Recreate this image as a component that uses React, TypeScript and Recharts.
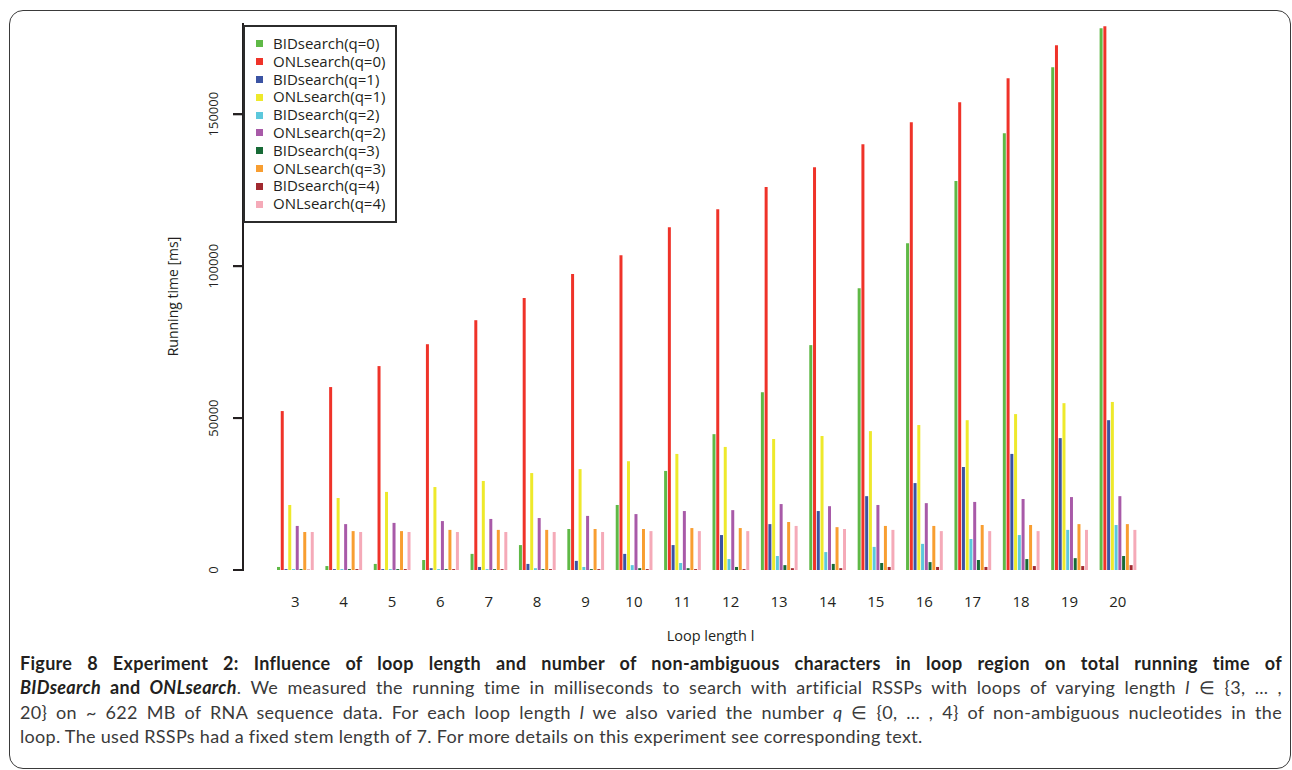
import React from 'react';
import {Bar, BarChart, XAxis, YAxis} from "recharts";

const loopLengths = ['3', '4', '5', '6', '7', '8', '9', '10', '11', '12', '13', '14', '15', '16', '17', '18', '19', '20'];

const bid0 = [1000, 1300, 2000, 3300, 5300, 8200, 13500, 21400, 32600, 44700, 58500, 74000, 92700, 107500, 128000, 143700, 165400, 178300];
const onl0 = [52300, 60200, 67100, 74300, 82200, 89500, 97400, 103600, 112800, 118700, 126000, 132500, 140100, 147300, 153900, 161800, 172700, 178900];
const bid1 = [300, 300, 300, 600, 1000, 2000, 3000, 5300, 8200, 11500, 15100, 19400, 24300, 28600, 33900, 38200, 43400, 49300];
const onl1 = [21400, 23700, 25700, 27300, 29300, 31900, 33200, 35800, 38200, 40500, 43100, 44100, 45700, 47700, 49300, 51300, 54900, 55300];
const bid2 = [300, 300, 300, 300, 300, 600, 1000, 1600, 2300, 3600, 4600, 5900, 7600, 8600, 10200, 11500, 13200, 14800];
const onl2 = [14500, 15100, 15500, 16100, 16800, 17100, 17800, 18400, 19400, 19700, 21700, 21000, 21400, 22000, 22400, 23400, 24000, 24300];
const bid3 = [300, 300, 300, 300, 300, 300, 300, 600, 600, 1000, 1600, 2000, 2300, 2600, 3300, 3600, 3900, 4600];
const onl3 = [12500, 12800, 12800, 13200, 13200, 13200, 13500, 13500, 13800, 13800, 15800, 14100, 14500, 14500, 14800, 14800, 15100, 15100];
const bid4 = [100, 300, 300, 300, 300, 300, 300, 300, 300, 300, 600, 600, 1000, 1000, 1000, 1300, 1300, 1600];
const onl4 = [12500, 12500, 12500, 12500, 12500, 12500, 12500, 12800, 12800, 12800, 14500, 13500, 13200, 12800, 12800, 12800, 13200, 13200];

const yTicks = [0, 50000, 100000, 150000];
const yMax = 180000;

const series = [
    {key: 'bid0', name: 'BIDsearch(q=0)', color: '#5fb946', values: bid0},
    {key: 'onl0', name: 'ONLsearch(q=0)', color: '#ef3329', values: onl0},
    {key: 'bid1', name: 'BIDsearch(q=1)', color: '#3b53a3', values: bid1},
    {key: 'onl1', name: 'ONLsearch(q=1)', color: '#eee92b', values: onl1},
    {key: 'bid2', name: 'BIDsearch(q=2)', color: '#5cc8dc', values: bid2},
    {key: 'onl2', name: 'ONLsearch(q=2)', color: '#a85aa8', values: onl2},
    {key: 'bid3', name: 'BIDsearch(q=3)', color: '#176a36', values: bid3},
    {key: 'onl3', name: 'ONLsearch(q=3)', color: '#f89e31', values: onl3},
    {key: 'bid4', name: 'BIDsearch(q=4)', color: '#a1292f', values: bid4},
    {key: 'onl4', name: 'ONLsearch(q=4)', color: '#f5aab8', values: onl4},
];

const data = loopLengths.map((l, i) => {
    const row: any = {l};
    series.forEach(s => { row[s.key] = s.values[i]; });
    return row;
});

const font = '"Open Sans", "Noto Sans", sans-serif';
const ink = '#231f20';

// chart geometry
const chartW = 1160;
const chartH = 660;
const plotTop = 23;
const xAxisH = 80;
const bottomMargin = 10;
const axisW = 243;

const TICK_SIZE = 10;
const TICK_MARGIN = 15;

const YTick = (props: any) => {
    const x = Number(props.x);
    const y = Number(props.y);
    return (
        <g>
            <rect x={x + TICK_MARGIN} y={y - 1} width={TICK_SIZE + 1} height={2} fill={ink}/>
            <text x={x} y={y} transform={`rotate(-90, ${x}, ${y})`} textAnchor="middle"
                  fontSize={13} fontFamily={font} fill={ink}>
                {props.payload.value}
            </text>
        </g>
    );
};

const XLabel = (props: any) => {
    const {viewBox} = props;
    return (
        <text x={viewBox.x + viewBox.width / 2 + 18} y={viewBox.y + viewBox.height - 9}
              textAnchor="middle" fontSize={14.5} fontFamily={font} fill={ink}>
            Loop length l
        </text>
    );
};

const captionLine: React.CSSProperties = {textAlign: 'justify', textAlignLast: 'justify', whiteSpace: 'nowrap'};

const App: React.FC = () => {
    return (
        <div style={{position: 'absolute', left: 0, top: 0, width: 1292, height: 770, background: '#fff'}}>
            <div style={{
                position: 'absolute', left: 9, top: 10, width: 1280, height: 757,
                border: '1.5px solid #3a3a3a', borderRadius: 14,
            }}/>
            <div style={{position: 'absolute', left: 0, top: 0}}>
                <BarChart width={chartW} height={chartH} data={data}
                          margin={{top: plotTop, right: 18, bottom: bottomMargin, left: 0}}
                          barSize={3} barGap={0.75}>
                    <XAxis dataKey="l" height={xAxisH} padding={{left: 28, right: 0}}
                           axisLine={false} tickLine={false} tickSize={6} tickMargin={20}
                           tick={{fontSize: 15, fontFamily: font, fill: ink}}
                           interval={0} label={<XLabel/>}/>
                    <YAxis width={axisW} domain={[0, yMax]} ticks={yTicks}
                           axisLine={{stroke: ink, strokeWidth: 2}} tickLine={{stroke: ink, strokeWidth: 2}}
                           tickSize={TICK_SIZE} tickMargin={TICK_MARGIN} tick={<YTick/>}
                           label={{value: 'Running time [ms]', angle: -90, position: 'insideLeft', offset: 173,
                               style: {textAnchor: 'middle', fontSize: 14, fontFamily: font, fill: ink}}}/>
                    {series.map(s => (
                        <Bar key={s.key} dataKey={s.key} name={s.name} fill={s.color} isAnimationActive={false}/>
                    ))}
                </BarChart>
            </div>
            <div style={{
                position: 'absolute', left: 243, top: 25, background: '#fff',
                border: `2px solid #2b2b2b`, padding: '8px 10px 8px 11px',
                fontFamily: font, fontSize: 15, color: ink, lineHeight: '17.8px',
            }}>
                {series.map(s => (
                    <div key={s.key} style={{display: 'flex', alignItems: 'center', whiteSpace: 'nowrap'}}>
                        <span style={{width: 7, height: 7, background: s.color, marginRight: 10, display: 'inline-block'}}/>
                        {s.name}
                    </div>
                ))}
            </div>
            <div style={{
                position: 'absolute', left: 20, top: 651, width: 1262,
                fontFamily: 'Lato, "Open Sans", sans-serif', fontSize: 18, letterSpacing: 0.3,
                lineHeight: '24.3px', color: '#3a3a3a',
            }}>
                <div style={{...captionLine, fontWeight: 700, color: ink}}>
                    Figure 8 Experiment 2: Influence of loop length and number of non-ambiguous characters in loop region on total running time of
                </div>
                <div style={captionLine}>
                    <b style={{color: ink}}><i>BIDsearch</i> and <i>ONLsearch</i></b>. We measured the running time in milliseconds to search with artificial RSSPs with loops of varying length <i>l</i> ∈ {'{'}3, ... ,
                </div>
                <div style={captionLine}>
                    20{'}'} on ~ 622 MB of RNA sequence data. For each loop length <i>l</i> we also varied the number <i>q</i> ∈ {'{'}0, ... , 4{'}'} of non-ambiguous nucleotides in the
                </div>
                <div style={{whiteSpace: 'nowrap'}}>
                    loop. The used RSSPs had a fixed stem length of 7. For more details on this experiment see corresponding text.
                </div>
            </div>
        </div>
    );
};

export default App;
